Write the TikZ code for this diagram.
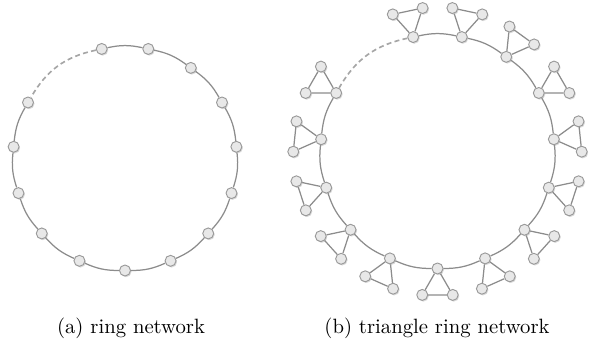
\documentclass[tikz,border=0pt]{standalone}
\usetikzlibrary{shadows}
\tikzset{
  peer/.style={circle, draw=black!40, fill=black!9, line width=0.45pt,
    inner sep=0pt, minimum size=5.3pt,
    drop shadow={shadow xshift=0.5pt, shadow yshift=-0.6pt, opacity=0.3}},
  link/.style={draw=black!45, line width=0.6pt},
  gaplink/.style={draw=black!35, line width=0.8pt, dash pattern=on 2.4pt off 1.6pt}
}
\begin{document}
\begin{tikzpicture}[x=0.483pt, y=0.483pt]
  \useasboundingbox (0,0) rectangle (589,343);
  \coordinate (ca) at (125,184.5);
  \coordinate (cb) at (437.5,191.5);

  % (a) ring
  \foreach \k [evaluate=\k as \a using -90+24*\k] in {0,1,2,3,4,5,6,7,8,10,11,12,13,14}
    \node[peer] (a\k) at ([shift={(\a:112)}]ca) {};
  \foreach \k [evaluate=\k as \n using {int(mod(\k+1,15))}] in {0,1,2,3,4,5,6,7,10,11,12,13,14}
    \draw[link] (a\k) to[bend right=12] (a\n);
  \draw[gaplink] (a8) to[bend right=24] (a10);

  % (b) triangle ring
  \foreach \k [evaluate=\k as \a using -90+24*\k] in {0,1,2,3,4,5,6,7,8,10,11,12,13,14}{
    \node[peer] (b\k) at ([shift={(\a:117)}]cb) {};
    \node[peer] (u\k) at ([shift={(\a+30:30.5)}]b\k.center) {};
    \node[peer] (v\k) at ([shift={(\a-30:30.5)}]b\k.center) {};
    \draw[link] (b\k) -- (u\k) -- (v\k) -- (b\k);
  }
  \foreach \k [evaluate=\k as \n using {int(mod(\k+1,15))}] in {0,1,2,3,4,5,6,7,10,11,12,13,14}
    \draw[link] (b\k) to[bend right=12] (b\n);
  \draw[gaplink] (b8) to[bend right=24] (b10);

  \node[anchor=base] (capa) at (131,9) {(a) ring network};
  \node[anchor=base] (capb) at (437,9) {(b) triangle ring network};
\end{tikzpicture}
\end{document}
